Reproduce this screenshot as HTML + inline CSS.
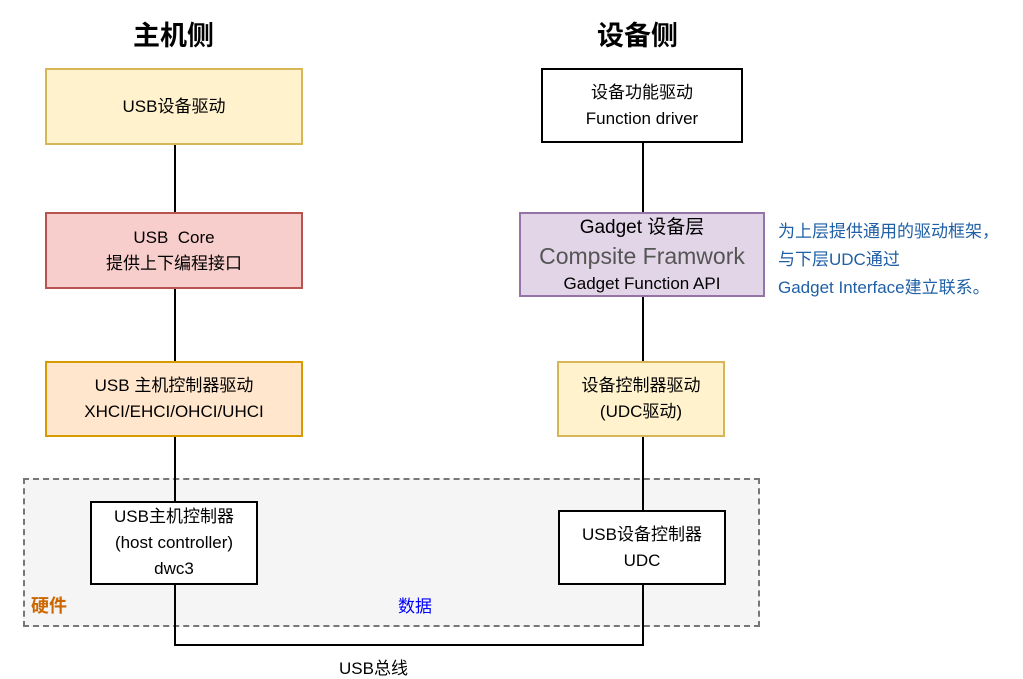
<!DOCTYPE html>
<html><head><meta charset="utf-8"><style>
body{margin:0;width:1023px;height:672px;background:#fff;position:relative;overflow:hidden;font-family:"Liberation Sans","Noto Sans CJK SC",sans-serif;}
.a{position:absolute;}
.box{position:absolute;box-sizing:border-box;border:2px solid #000;display:flex;flex-direction:column;justify-content:center;align-items:center;font-size:17px;line-height:26px;color:#000;text-align:center;}
.v{position:absolute;width:1.5px;background:#000;}
.t{position:absolute;font-size:17px;white-space:nowrap;}
</style></head><body>
<div class="t" style="left:133px;top:14px;font-size:27px;font-weight:bold;">主机侧</div>
<div class="t" style="left:597px;top:14px;font-size:27px;font-weight:bold;">设备侧</div>

<div class="a" style="left:23px;top:478px;width:737px;height:149px;background:#f5f5f5;border:2px dashed #777;box-sizing:border-box;"></div>

<div class="v" style="left:174px;top:145px;height:67px"></div>
<div class="v" style="left:174px;top:289px;height:72px"></div>
<div class="v" style="left:174px;top:437px;height:64px"></div>
<div class="v" style="left:174px;top:585px;height:61px"></div>
<div class="v" style="left:642px;top:143px;height:69px"></div>
<div class="v" style="left:642px;top:297px;height:64px"></div>
<div class="v" style="left:642px;top:437px;height:73px"></div>
<div class="v" style="left:642px;top:585px;height:61px"></div>
<div class="a" style="left:174px;top:644px;width:470px;height:1.5px;background:#000"></div>

<div class="box" style="left:45px;top:68px;width:258px;height:77px;background:#fff2cc;border-color:#d6b656">USB设备驱动</div>
<div class="box" style="left:45px;top:212px;width:258px;height:77px;background:#f8cecc;border-color:#b85450"><div>USB&nbsp; Core</div><div>提供上下编程接口</div></div>
<div class="box" style="left:45px;top:361px;width:258px;height:76px;background:#ffe6cc;border-color:#d79b00"><div>USB 主机控制器驱动</div><div>XHCI/EHCI/OHCI/UHCI</div></div>
<div class="box" style="left:90px;top:501px;width:168px;height:84px;background:#fff"><div>USB主机控制器</div><div>(host controller)</div><div>dwc3</div></div>

<div class="box" style="left:541px;top:68px;width:202px;height:75px;background:#fff"><div>设备功能驱动</div><div>Function driver</div></div>
<div class="box" style="left:519px;top:212px;width:246px;height:85px;background:#e1d5e7;border-color:#9673a6;line-height:28px;padding-top:3px">
<div style="font-size:19px">Gadget 设备层</div><div style="font-size:23px;color:#555">Compsite Framwork</div><div>Gadget Function API</div></div>
<div class="box" style="left:557px;top:361px;width:168px;height:76px;background:#fff2cc;border-color:#d6b656"><div>设备控制器驱动</div><div>(UDC驱动)</div></div>
<div class="box" style="left:558px;top:510px;width:168px;height:75px;background:#fff"><div>USB设备控制器</div><div>UDC</div></div>

<div class="t" style="left:778px;top:218px;color:#1f5fa6;font-size:17px;line-height:28px">为上层提供通用的驱动框架，<br>与下层UDC通过<br>Gadget Interface建立联系。</div>

<div class="t" style="left:31px;top:592px;color:#cc6600;font-weight:bold;font-size:18px">硬件</div>
<div class="t" style="left:398px;top:592px;color:#0000ff;font-size:17px">数据</div>
<div class="t" style="left:339px;top:654px;font-size:17px">USB总线</div>
</body></html>
